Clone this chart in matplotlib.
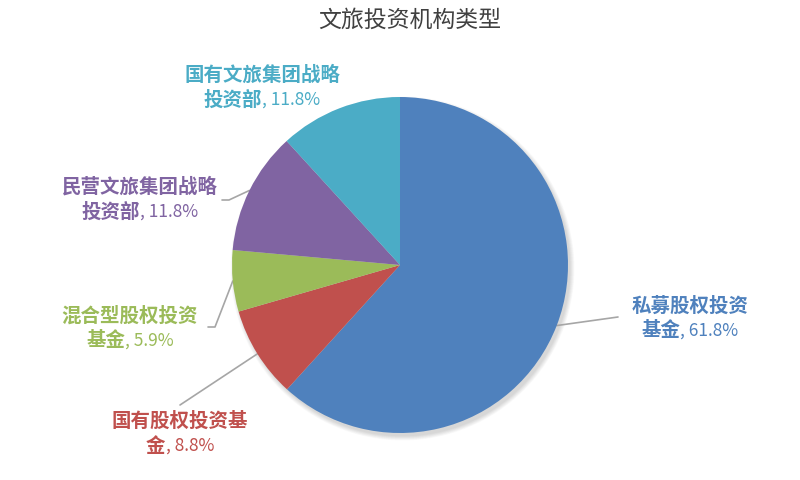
import numpy as np
import matplotlib
matplotlib.use("Agg")
import matplotlib.pyplot as plt
from matplotlib.patches import Circle

plt.rcParams['font.family'] = ['Noto Sans CJK SC', 'DejaVu Sans']

title = "文旅投资机构类型"
names = ["私募股权投资\n基金", "国有股权投资基\n金", "混合型股权投资\n基金",
         "民营文旅集团战略\n投资部", "国有文旅集团战略\n投资部"]
values = [61.8, 8.8, 5.9, 11.8, 11.8]
pct_labels = ["61.8%", "8.8%", "5.9%", "11.8%", "11.8%"]
colors = ["#4F81BD", "#C0504D", "#9BBB59", "#8064A2", "#4BACC6"]
text_colors = ["#4F81BD", "#C0504D", "#9BBB59", "#8064A2", "#4BACC6"]

W, H = 800, 480
fig = plt.figure(figsize=(8, 4.8), dpi=100)
ax = fig.add_axes([0, 0, 1, 1])


def P(x, y):
    """pixel (y down) -> data (y up)"""
    return x, H - y


cx, cy = P(400, 265)
R = 168

# soft shadow
for k in range(8):
    ax.add_patch(Circle((cx + 2.5, cy - 3.5), R + 4 - k * 0.6, color='black',
                        alpha=0.018, lw=0, zorder=0))

wedges, _ = ax.pie(values, colors=colors, startangle=90, counterclock=False,
                   center=(cx, cy), radius=R, frame=True,
                   wedgeprops=dict(linewidth=0, zorder=2))
ax.set_xlim(0, W)
ax.set_ylim(0, H)
ax.set_aspect('equal')
ax.axis('off')

ax.text(*P(410, 20), title, ha='center', va='center', fontsize=16.5,
        color='#404040')

# label centres (pixels) and leader start points (pixels)
label_pos = [(690, 318), (180, 433), (130, 328), (140, 199), (262, 87)]
leader_start = [[(618, 317)], [(180, 405)], [(208, 327), (215, 327)],
                [(222, 200), (229, 200)], None]

fig.canvas.draw()
renderer = fig.canvas.get_renderer()

for i, w in enumerate(wedges):
    th = np.deg2rad((w.theta1 + w.theta2) / 2)
    ex = cx + R * np.cos(th)
    ey = cy + R * np.sin(th)
    ls = leader_start[i]
    if ls is not None:
        pts = [P(*p) for p in ls]
        xs = [p[0] for p in pts] + [ex]
        ys = [p[1] for p in pts] + [ey]
        ax.plot(xs, ys, color='#A6A6A6', lw=1.2, zorder=1,
                solid_capstyle='round')

    line1, line2 = names[i].split("\n")
    lx, ly = label_pos[i]
    col = text_colors[i]
    ax.text(*P(lx, ly - 12), line1, ha='center', va='center', fontsize=14,
            fontweight='bold', color=col)
    t1 = ax.text(*P(lx, ly + 13), line2, ha='right', va='center', fontsize=14,
                 fontweight='bold', color=col)
    t2 = ax.text(*P(lx, ly + 13), ", " + pct_labels[i], ha='left',
                 va='center', fontsize=12.5, color=col)
    w1 = t1.get_window_extent(renderer).width
    w2 = t2.get_window_extent(renderer).width
    shift = (w1 - w2) / 2
    t1.set_x(lx + shift)
    t2.set_x(lx + shift)

fig.savefig("out.png", dpi=100)
